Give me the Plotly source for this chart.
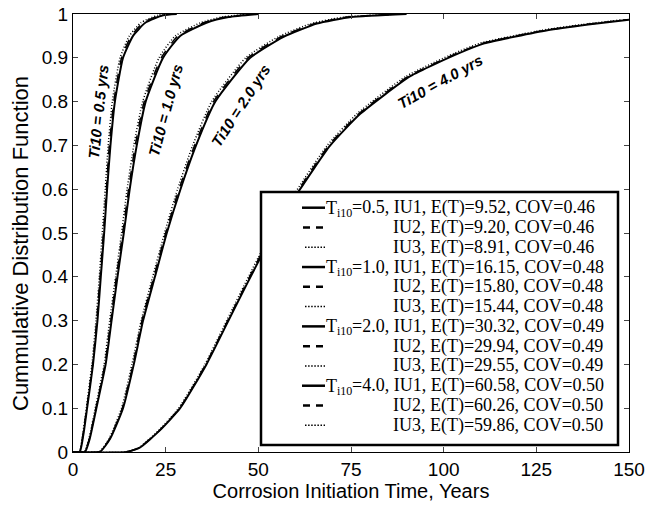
import plotly.graph_objects as go

# ---- data ----
ti10_levels = ["0.5", "1.0", "2.0", "4.0"]
iu_names = ["IU1", "IU2", "IU3"]
mean_T = {"0.5": ["9.52", "9.20", "8.91"], "1.0": ["16.15", "15.80", "15.44"],
          "2.0": ["30.32", "29.94", "29.55"], "4.0": ["60.58", "60.26", "59.86"]}
cov_T = {"0.5": "0.46", "1.0": "0.48", "2.0": "0.49", "4.0": "0.50"}

cdf_05 = [0, 0, 0.04, 0.1, 0.2, 0.3, 0.4, 0.5, 0.6, 0.7, 0.8, 0.9, 0.95, 0.98, 0.997, 1.0]
t_05_iu1 = [0, 1.8, 2.8, 3.8, 5.4, 6.6, 7.5, 8.4, 9.2, 10.1, 11.3, 13.5, 16.2, 19.5, 24.3, 28.0]
t_05_iu2 = [0, 1.8, 2.7, 3.7, 5.3, 6.4, 7.3, 8.2, 9.0, 9.8, 11.0, 13.1, 15.7, 18.9, 23.5, 27.0]
t_05_iu3 = [0, 1.7, 2.6, 3.6, 5.1, 6.2, 7.1, 7.9, 8.7, 9.5, 10.6, 12.7, 15.2, 18.3, 22.8, 26.0]

cdf_10 = [0, 0, 0.03, 0.1, 0.2, 0.3, 0.4, 0.5, 0.6, 0.7, 0.8, 0.9, 0.95, 0.98, 0.993, 1.0]
t_10_iu1 = [0, 3.2, 4.5, 6.3, 8.8, 10.4, 12.0, 13.7, 15.3, 17.2, 19.6, 24.3, 28.9, 36.0, 42.0, 50.0]
t_10_iu2 = [0, 3.1, 4.4, 6.2, 8.6, 10.2, 11.7, 13.4, 15.0, 16.8, 19.2, 23.8, 28.3, 35.2, 41.0, 49.0]
t_10_iu3 = [0, 3.0, 4.3, 6.0, 8.4, 9.9, 11.5, 13.1, 14.6, 16.4, 18.8, 23.2, 27.6, 34.4, 40.0, 48.0]

cdf_20 = [0, 0, 0.03, 0.1, 0.2, 0.3, 0.4, 0.5, 0.6, 0.7, 0.8, 0.9, 0.948, 0.978, 0.993, 1.0]
t_20_iu1 = [0, 7.2, 10.0, 13.5, 16.4, 18.9, 22.1, 25.3, 29.0, 33.2, 38.4, 47.8, 56.8, 65.8, 75.0, 90.0]
t_20_iu2 = [0, 7.1, 9.9, 13.3, 16.2, 18.6, 21.8, 25.0, 28.6, 32.8, 37.9, 47.2, 56.1, 65.0, 74.0, 89.0]
t_20_iu3 = [0, 7.0, 9.7, 13.1, 15.9, 18.4, 21.5, 24.7, 28.2, 32.3, 37.4, 46.6, 55.4, 64.2, 73.0, 88.0]

cdf_40 = [0, 0, 0.01, 0.05, 0.1, 0.2, 0.33, 0.446, 0.5, 0.594, 0.7, 0.772, 0.858, 0.91, 0.933, 0.963, 0.976, 0.987]
t_40_iu1 = [0, 14.4, 18.0, 23.5, 28.9, 36.0, 43.7, 50.7, 54.2, 60.8, 69.4, 77.5, 91.0, 104.0, 111.0, 128.0, 139.0, 150.0]
t_40_iu2 = [0, 14.3, 17.9, 23.4, 28.8, 35.8, 43.5, 50.4, 53.9, 60.5, 69.0, 77.1, 90.5, 103.5, 110.4, 127.4, 138.3, 149.3]
t_40_iu3 = [0, 14.2, 17.8, 23.2, 28.5, 35.6, 43.2, 50.1, 53.5, 60.1, 68.6, 76.6, 89.9, 102.8, 109.7, 126.5, 137.4, 148.2]

series = {
    "0.5": (cdf_05, [t_05_iu1, t_05_iu2, t_05_iu3]),
    "1.0": (cdf_10, [t_10_iu1, t_10_iu2, t_10_iu3]),
    "2.0": (cdf_20, [t_20_iu1, t_20_iu2, t_20_iu3]),
    "4.0": (cdf_40, [t_40_iu1, t_40_iu2, t_40_iu3]),
}

x_ticks = [0, 25, 50, 75, 100, 125, 150]
y_ticks = [0, 0.1, 0.2, 0.3, 0.4, 0.5, 0.6, 0.7, 0.8, 0.9, 1]
y_tick_labels = ["0", "0.1", "0.2", "0.3", "0.4", "0.5", "0.6", "0.7", "0.8", "0.9", "1"]

x_title = "Corrosion Initiation Time, Years"
y_title = "Cummulative Distribution Function"

curve_labels = ["Ti10 = 0.5 yrs", "Ti10 = 1.0 yrs", "Ti10 = 2.0 yrs", "Ti10 = 4.0 yrs"]
label_x = [6.7, 25.0, 45.3, 99.1]
label_y = [0.776, 0.779, 0.79, 0.845]
label_angle = [-84, -75, -57, -29]

# ---- layout constants (pixels) ----
W, H = 657, 506
ML, MR, MT, MB = 73, 28, 14, 54
PW, PH = W - ML - MR, H - MT - MB


def px(xp):
    return (xp - ML) / PW


def py(yp):
    return (H - MB - yp) / PH


dashes = ["solid", "dash", "1px,2px"]
widths = [2, 1.5, 1.5]

fig = go.Figure()
for lvl in ti10_levels:
    yv, xs = series[lvl]
    for k, iu in enumerate(iu_names):
        fig.add_trace(go.Scatter(
            x=xs[k], y=yv, mode="lines", name=f"Ti10={lvl}, {iu}",
            showlegend=False, hoverinfo="x+y+name",
            line=dict(color="black", width=widths[k], dash=dashes[k],
                      shape="spline", smoothing=0.5),
        ))

for txt, lx, ly, ang in zip(curve_labels, label_x, label_y, label_angle):
    fig.add_annotation(x=lx, y=ly, text=f"<b><i>{txt}</i></b>", showarrow=False,
                       textangle=ang, font=dict(family="Liberation Sans", size=15, color="black"))

# y-axis title (placed like the original)
fig.add_annotation(xref="paper", yref="paper", x=px(20), y=py(244), text=y_title,
                   textangle=-90, showarrow=False, xanchor="center", yanchor="middle",
                   font=dict(family="Liberation Sans", size=22, color="black"))

# ---- hand-built legend (tight row spacing like the original) ----
fig.add_shape(type="rect", xref="paper", yref="paper",
              x0=px(261), x1=px(618), y0=py(445), y1=py(192),
              fillcolor="white", line=dict(color="black", width=2.5), layer="above")

LEG_FONT = dict(family="Liberation Serif", size=18, color="black")
SUB_FONT = dict(family="Liberation Serif", size=12, color="black")
row0, drow = 207.7, 19.78
sample_dash = ["solid", "7px,6px", "1.5px,1.6px"]
sample_w = [2.5, 2.5, 1.5]
sample_x0 = [302, 303, 305]


def leg_text(xp, yc, text, font, yshift=0):
    fig.add_annotation(xref="paper", yref="paper", x=px(xp), y=py(yc),
                       xanchor="left", yanchor="middle", showarrow=False,
                       text=text, borderpad=0, borderwidth=0, yshift=yshift, font=font)


i = 0
for lvl in ti10_levels:
    for k, iu in enumerate(iu_names):
        yc = row0 + drow * i
        fig.add_shape(type="line", xref="paper", yref="paper",
                      x0=px(sample_x0[k]), x1=px(325), y0=py(yc), y1=py(yc),
                      line=dict(color="black", width=sample_w[k], dash=sample_dash[k]),
                      layer="above")
        rest = f"{iu}, E(T)={mean_T[lvl][k]}, COV={cov_T[lvl]}"
        if k == 0:
            leg_text(326.0, yc, "T", LEG_FONT)
            leg_text(337.0, yc, "i10", SUB_FONT, yshift=-5)
            leg_text(352.3, yc, f"={lvl}, {rest}", LEG_FONT)
        else:
            leg_text(393.0, yc, rest, LEG_FONT)
        i += 1

fig.update_layout(
    width=W, height=H,
    margin=dict(l=ML, r=MR, t=MT, b=MB, autoexpand=False),
    paper_bgcolor="white", plot_bgcolor="white",
    font=dict(family="Liberation Sans", size=19, color="black"),
    showlegend=False,
    xaxis=dict(range=[0, 150], tickvals=x_ticks, ticks="inside", ticklen=5,
               showline=True, linecolor="black", linewidth=1, mirror="ticks",
               showgrid=False, zeroline=False, automargin=False,
               title=dict(text=x_title, standoff=3,
                          font=dict(family="Liberation Sans", size=20, color="black")),
               tickfont=dict(size=19)),
    yaxis=dict(range=[0, 1], tickvals=y_ticks, ticktext=y_tick_labels,
               ticks="inside", ticklen=5, automargin=False,
               showline=True, linecolor="black", linewidth=1, mirror="ticks",
               showgrid=False, zeroline=False,
               tickfont=dict(size=19)),
)

fig.write_html("out.html")
